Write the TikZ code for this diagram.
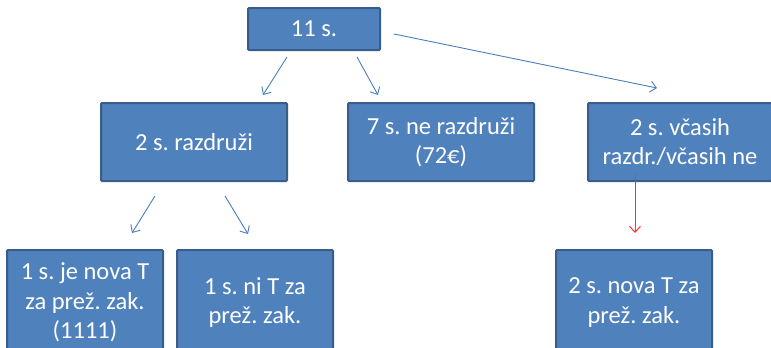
\documentclass[tikz,border=0pt]{standalone}
\usepackage{fontspec}
\setmainfont{Carlito}
\usetikzlibrary{arrows.meta}
\definecolor{boxfill}{HTML}{4F81BD}
\definecolor{boxline}{HTML}{385D8A}
\definecolor{arrblue}{HTML}{4A7EBB}
\definecolor{arrred}{HTML}{FF3030}
\begin{document}
\frenchspacing
\begin{tikzpicture}[x={(1pt,0)},y={(0,-1pt)},
  box/.style={draw=boxline,line width=2pt,fill=boxfill,text=white,rounded corners=1pt,
    align=center,inner sep=0pt,font=\fontsize{24.5pt}{29.5pt}\selectfont},
  arr/.style={draw=arrblue,line width=0.9pt,-{Straight Barb[length=6pt,width=11pt]}},
  arrr/.style={draw=arrred,line width=1pt,-{Straight Barb[length=6pt,width=11pt]}}]
\clip (0,0) rectangle (771,348);
\node[box,minimum width=132pt,minimum height=42pt] (top) at (314,29) {11 s.};
\node[box,minimum width=186pt,minimum height=78pt] (m1) at (194,142) {2 s. razdruži};
\node[box,minimum width=186pt,minimum height=78pt] (m2) at (441,142) {7 s. ne razdruži\\(72€)};
\node[box,minimum width=184pt,minimum height=78pt] (m3) at (680,142) {2 s. včasih\\razdr./včasih ne};
\node[box,minimum width=156pt,minimum height=105pt] (b1) at (85,302.5) {1 s. je nova T\\za prež. zak.\\(1111)};
\node[box,minimum width=156pt,minimum height=105pt] (b2) at (255,302.5) {1 s. ni T za\\prež. zak.};
\node[box,minimum width=156pt,minimum height=105pt] (b3) at (634,302.5) {2 s. nova T za\\prež. zak.};
\coordinate (a1s) at (287,57); \coordinate (a1e) at (263,95);
\coordinate (a2s) at (357,57); \coordinate (a2e) at (378,95);
\coordinate (a3s) at (394,34); \coordinate (a3e) at (657,88);
\coordinate (a4s) at (155,196); \coordinate (a4e) at (132,233);
\coordinate (a5s) at (225,196); \coordinate (a5e) at (248,234);
\coordinate (a6s) at (635,174); \coordinate (a6e) at (635,233);
\draw[arr] (a1s) -- (a1e);
\draw[arr] (a2s) -- (a2e);
\draw[arr] (a3s) -- (a3e);
\draw[arr] (a4s) -- (a4e);
\draw[arr] (a5s) -- (a5e);
\draw[arrr] (a6s) -- (a6e);
\end{tikzpicture}
\end{document}
